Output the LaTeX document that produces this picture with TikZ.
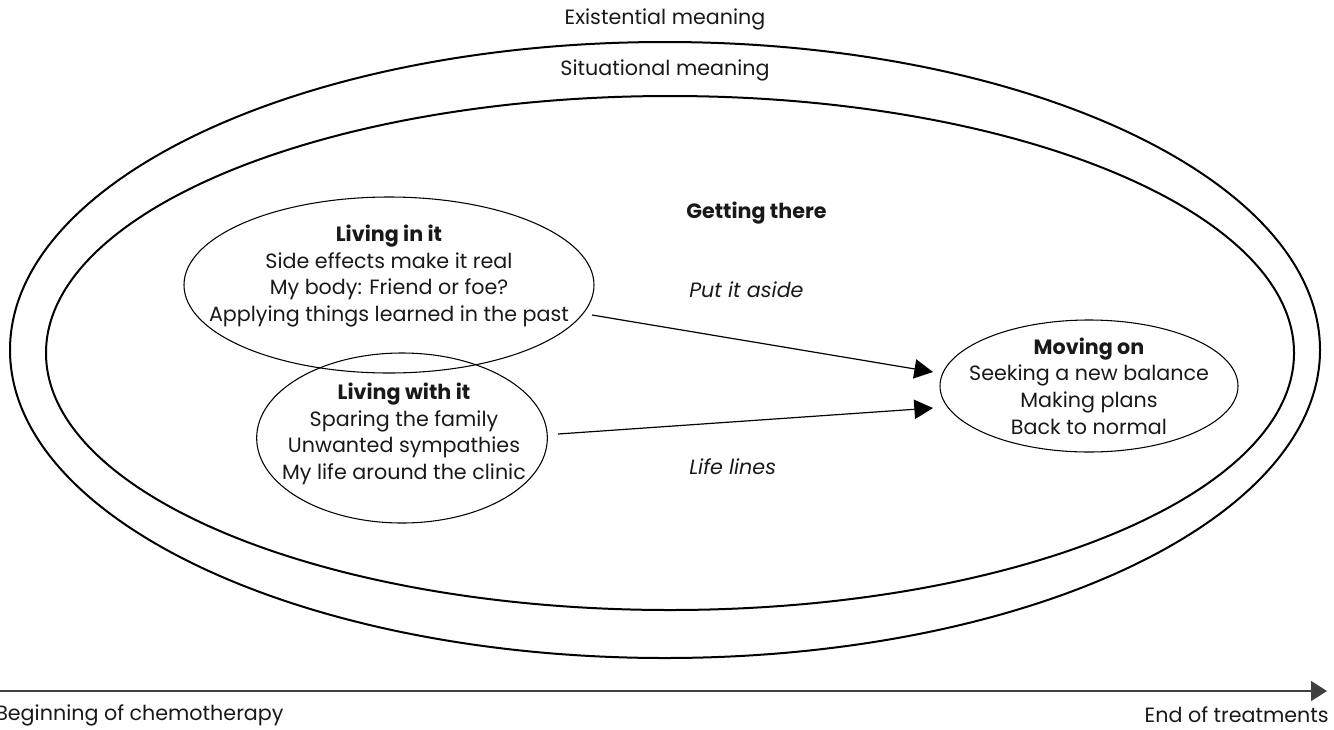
\documentclass[tikz,border=0pt]{standalone}
\usepackage{fontspec}
\setmainfont{Poppins}
\usetikzlibrary{shapes.geometric,arrows.meta}
\begin{document}
\begin{tikzpicture}[x=0.75pt,y=-0.75pt,
  bigring/.style={draw=black, ellipse, line width=1.5pt, inner sep=0pt},
  themering/.style={draw=black, ellipse, line width=0.8pt, inner sep=0pt},
  txt/.style={align=center, inner sep=0pt, text=black!90, font=\fontsize{15.5}{20}\selectfont},
  lbl/.style={inner sep=0pt, text=black!90, font=\fontsize{15.5}{20}\selectfont},
  flow/.style={line width=0.9pt, -{Triangle[length=14pt,width=14.5pt]}},
  timeaxis/.style={draw=black!75, line width=1.2pt, -{Triangle[length=12pt,width=15pt]}, black!75}]
\useasboundingbox (0,0) rectangle (1334,729);
% meaning rings
\node[bigring, minimum width=982.5pt, minimum height=462pt] (outer) at (665,350) {};
\node[bigring, minimum width=936pt, minimum height=385.5pt] (inner) at (670,353) {};
\node[lbl] (exist) at (665,19) {Existential meaning};
\node[lbl] (situ) at (665,70) {Situational meaning};
% theme ellipses
\node[themering, minimum width=307.5pt, minimum height=132pt] (livingin) at (389,285) {};
\node[themering, minimum width=218pt, minimum height=127.5pt] (livingwith) at (402,438) {};
\node[themering, minimum width=223.5pt, minimum height=99pt] (movingon) at (1089,386) {};
\node[txt] (livingintxt) at (389,276) {\textbf{Living in it}\\Side effects make it real\\My body: Friend or foe?\\Applying things learned in the past};
\node[txt] (livingwithtxt) at (404,434) {\textbf{Living with it}\\Sparing the family\\Unwanted sympathies\\My life around the clinic};
\node[txt] (movingontxt) at (1089,386) {\textbf{Moving on}\\Seeking a new balance\\Making plans\\Back to normal};
% labels
\node[lbl, anchor=west] (getting) at (686,213) {\textbf{Getting there}};
\node[lbl, anchor=west] (aside) at (689,290) {\itshape Put it aside};
\node[lbl, anchor=west] (lifelines) at (689,467) {\itshape Life lines};
% connectors
\coordinate (s1) at (592,315);
\coordinate (s2) at (558,434);
\coordinate (e1) at (933,372);
\coordinate (e2) at (933,408);
\draw[flow] (s1) -- (e1);
\draw[flow] (s2) -- (e2);
% time axis
\coordinate (tstart) at (0,691);
\coordinate (tend) at (1327,691);
\draw[timeaxis] (tstart) -- (tend);
\node[lbl, anchor=west] (begin) at (-5,715) {Beginning of chemotherapy};
\node[lbl, anchor=east] (endt) at (1329,715) {End of treatments};
\end{tikzpicture}
\end{document}
